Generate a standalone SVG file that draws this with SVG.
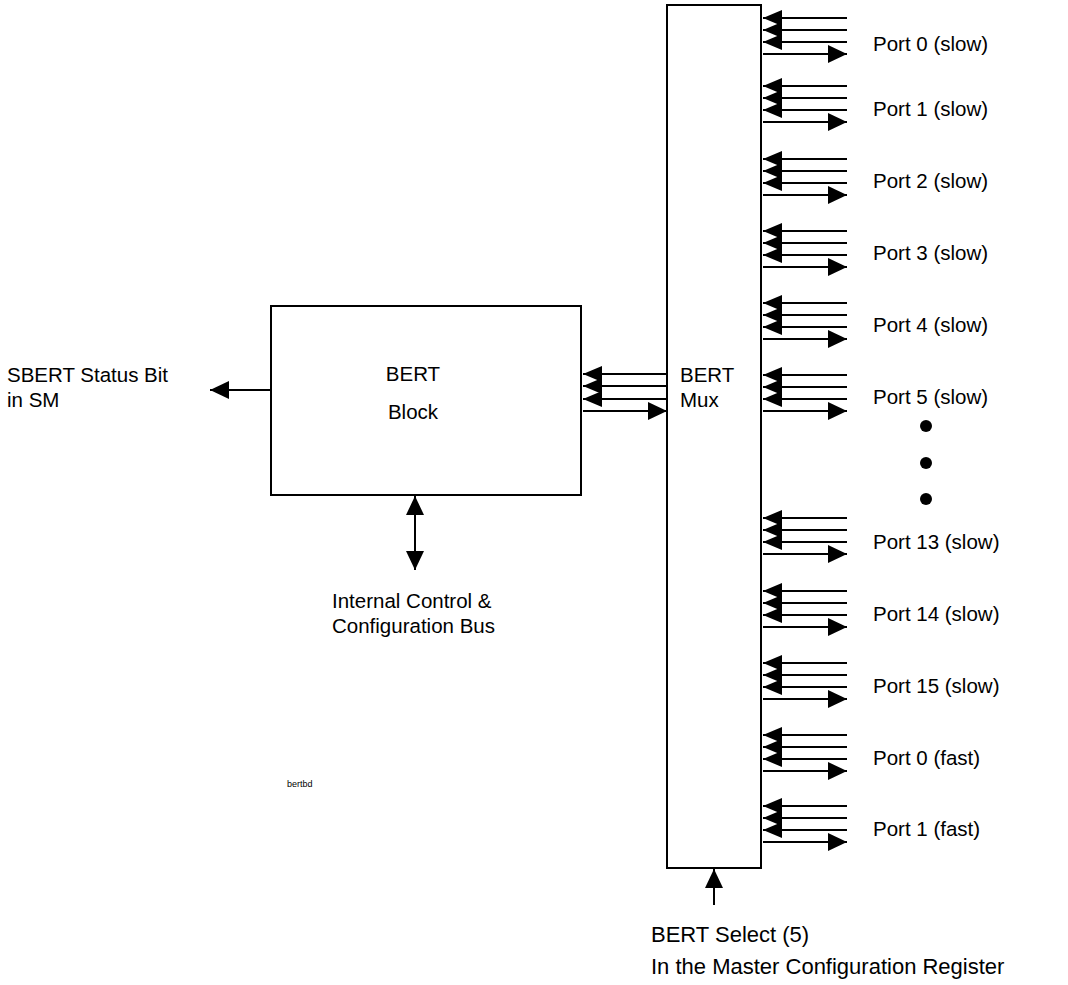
<svg xmlns="http://www.w3.org/2000/svg" width="1068" height="985" viewBox="0 0 1068 985">
<defs>
<style>
.box{fill:#fff;stroke:#000;stroke-width:2}
.ln{stroke:#000;stroke-width:2;fill:none}
.ar{stroke:#000;stroke-width:2;fill:none;marker-end:url(#ah)}
text{font-family:"Liberation Sans",Arial,sans-serif;font-size:20.5px;fill:#000}
.sel{font-size:22px}
</style>
<marker id="ah" markerUnits="userSpaceOnUse" markerWidth="20" markerHeight="18" refX="19" refY="8" orient="auto" viewBox="0 0 20 16">
<path d="M0,0 L19,8 L0,16 Z" fill="#000"/>
</marker>
<marker id="ahb" markerUnits="userSpaceOnUse" markerWidth="20" markerHeight="20" refX="19" refY="9" orient="auto" viewBox="0 0 20 18">
<path d="M0,0 L19,9 L0,18 Z" fill="#000"/>
</marker>
<g id="portArrows">
<line class="ar" x1="847" y1="0" x2="763" y2="0"/>
<line class="ar" x1="847" y1="12" x2="763" y2="12"/>
<line class="ar" x1="847" y1="24" x2="763" y2="24"/>
<line class="ln" x1="763" y1="36" x2="847" y2="36" style="marker-end:url(#ahb)"/>
</g>
</defs>

<g id="bert-block">
<rect class="box" x="271" y="306" width="310" height="189"/>
<text x="413" y="381" text-anchor="middle">BERT</text>
<text x="413" y="419" text-anchor="middle">Block</text>
</g>

<g id="bert-mux">
<rect class="box" x="667" y="5" width="94" height="863"/>
<text x="680" y="382">BERT</text>
<text x="680" y="407">Mux</text>
</g>

<g id="connectors">
<line class="ar" x1="667" y1="374" x2="583" y2="374"/>
<line class="ar" x1="667" y1="386" x2="583" y2="386"/>
<line class="ar" x1="667" y1="399" x2="583" y2="399"/>
<line class="ln" x1="583" y1="411" x2="667" y2="411" style="marker-end:url(#ahb)"/>
<line class="ln" x1="271" y1="390" x2="210" y2="390" style="marker-end:url(#ahb)"/>
<line class="ln" x1="415" y1="533" x2="415" y2="496" style="marker-end:url(#ahb)"/>
<line class="ln" x1="415" y1="533" x2="415" y2="570" style="marker-end:url(#ahb)"/>
<line class="ln" x1="714" y1="905" x2="714" y2="869" style="marker-end:url(#ahb)"/>
<use href="#portArrows" y="18"/>
<use href="#portArrows" y="86"/>
<use href="#portArrows" y="159"/>
<use href="#portArrows" y="231"/>
<use href="#portArrows" y="303"/>
<use href="#portArrows" y="375"/>
<use href="#portArrows" y="518"/>
<use href="#portArrows" y="591"/>
<use href="#portArrows" y="663"/>
<use href="#portArrows" y="735"/>
<use href="#portArrows" y="806"/>
</g>

<g id="ellipsis">
<circle cx="926" cy="426" r="6" fill="#000"/>
<circle cx="926" cy="463" r="6" fill="#000"/>
<circle cx="926" cy="499" r="6" fill="#000"/>
</g>

<g id="port-labels">
<text x="873" y="51">Port 0 (slow)</text>
<text x="873" y="116">Port 1 (slow)</text>
<text x="873" y="188">Port 2 (slow)</text>
<text x="873" y="260">Port 3 (slow)</text>
<text x="873" y="332">Port 4 (slow)</text>
<text x="873" y="404">Port 5 (slow)</text>
<text x="873" y="549">Port 13 (slow)</text>
<text x="873" y="621">Port 14 (slow)</text>
<text x="873" y="693">Port 15 (slow)</text>
<text x="873" y="765">Port 0 (fast)</text>
<text x="873" y="836">Port 1 (fast)</text>
</g>

<g id="sbert-label">
<text x="7" y="382">SBERT Status Bit</text>
<text x="7" y="407">in SM</text>
</g>

<g id="bus-label">
<text x="332" y="608">Internal Control &amp;</text>
<text x="332" y="633">Configuration Bus</text>
</g>

<g id="select-label">
<text class="sel" x="651" y="942">BERT Select (5)</text>
<text class="sel" x="651" y="974">In the Master Configuration Register</text>
</g>

<g id="tag">
<text x="287" y="787" style="font-size:9px">bertbd</text>
</g>
</svg>
